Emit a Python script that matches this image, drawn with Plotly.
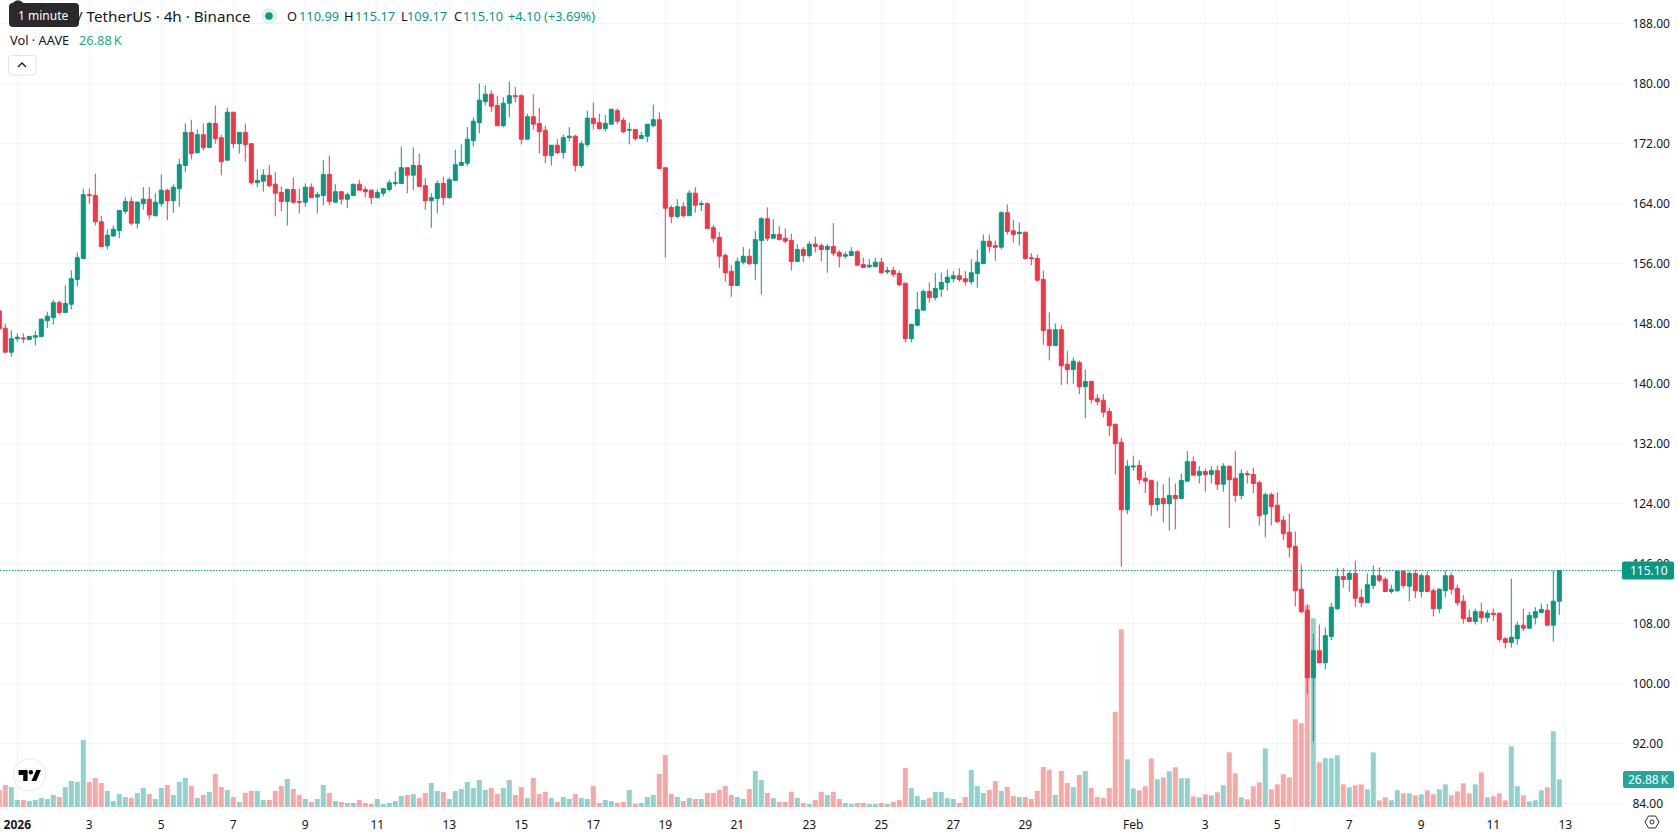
import pandas as pd
import plotly.graph_objects as go

FIRST_BAR = "2025-12-31 12:00"

opens = [
    149.7, 147.4, 144.2, 146.0, 146.1, 145.9, 146.2, 146.3, 148.4, 148.8, 150.8, 149.5,
    150.6, 153.9, 156.7, 165.2, 165.1, 161.6, 158.4, 159.7, 160.4, 163.0, 164.3, 161.4,
    164.0, 164.6, 162.4, 164.0, 165.8, 164.4, 166.0, 169.1, 173.5, 170.8, 173.2, 171.5,
    174.7, 172.8, 169.8, 176.2, 172.0, 173.5, 172.0, 166.8, 167.0, 167.8, 166.6, 165.5,
    164.3, 165.9, 164.3, 164.2, 166.2, 164.9, 165.1, 167.9, 164.2,
    165.6, 164.6, 165.1, 166.6, 165.9, 165.8, 164.8, 165.4, 165.9, 166.7, 166.7, 168.8,
    167.8, 169.1, 166.4, 164.4, 164.7, 166.7, 164.8, 167.1, 169.1, 169.4, 172.4, 174.8,
    177.6, 178.6, 177.1, 174.4, 177.4, 178.4, 178.4, 172.6, 175.6, 174.7, 173.8, 170.4,
    171.8, 170.8, 172.8, 173.0, 169.1, 171.9, 175.4, 174.8, 174.0, 174.6, 176.4, 175.1,
    173.8, 173.9, 172.7, 173.0, 174.4, 175.2, 168.8, 163.5, 162.3,
    163.6, 162.4, 165.4, 163.9, 164.0, 160.8, 159.5, 157.1, 155.0, 153.1, 156.2, 157.0,
    156.0, 159.1, 162.0, 159.4, 159.9, 159.4, 159.1, 156.3, 157.9, 157.1, 158.6, 158.4,
    157.9, 158.3, 157.5, 157.0, 157.1, 157.6, 155.9, 155.6, 155.6, 156.2, 154.9, 155.1,
    154.7, 153.4, 146.0, 147.8, 149.8, 152.3, 151.5, 152.6, 153.5, 154.0, 154.4, 154.0,
    153.6, 154.7, 156.0, 159.0, 158.4, 158.2, 162.8, 160.4, 160.0,
    160.2, 156.8, 156.7, 153.9, 147.2, 145.1, 147.2, 142.6, 141.9, 142.8, 139.6, 140.3,
    138.0, 137.8, 136.3, 134.6, 132.2, 123.2, 128.9, 129.1, 127.4, 127.1, 123.9, 124.7,
    124.0, 125.1, 124.7, 127.0, 129.6, 127.8, 128.3, 127.9, 128.4, 126.6, 129.0, 127.4,
    125.1, 128.0, 127.9, 126.8, 122.6, 125.2, 123.8, 121.8, 120.2, 118.3, 112.6, 109.8,
    100.8, 104.4, 102.8, 106.3, 110.0, 114.3, 113.9, 114.7, 111.5, 110.8, 113.1, 114.4,
    113.9, 112.3, 112.4, 115.0, 113.0, 114.7, 112.3, 114.4, 112.4, 110.0, 112.4, 114.4,
    112.7, 111.0, 108.8, 108.3, 109.6, 108.8, 109.4, 109.4, 106.0, 105.5, 106.0, 107.8,
    107.4, 108.8, 109.5, 109.8, 107.8, 110.99,
]

closes = [
    147.3, 144.2, 146.0, 146.2, 146.0, 146.3, 146.4, 148.6, 149.0, 150.8, 149.5, 150.7,
    154.0, 156.8, 165.2, 165.1, 161.6, 158.3, 159.8, 160.6, 163.1, 164.3, 161.4, 164.2,
    164.6, 162.5, 164.2, 165.8, 164.4, 166.2, 169.2, 173.5, 170.7, 173.2, 171.5, 174.7,
    172.7, 169.6, 176.2, 172.0, 173.5, 171.9, 166.8, 167.1, 167.8, 166.4, 165.4, 164.3,
    165.9, 164.2, 164.2, 166.2, 164.8, 165.2, 167.9, 164.3, 165.6,
    164.6, 165.2, 166.6, 165.8, 165.6, 164.8, 165.5, 166.0, 166.8, 166.8, 168.8, 167.8,
    169.1, 166.3, 164.4, 164.8, 166.7, 164.8, 167.2, 169.2, 169.5, 172.6, 175.0, 177.8,
    178.6, 177.0, 174.4, 177.4, 178.4, 178.3, 172.6, 175.6, 174.6, 173.6, 170.4, 171.8,
    170.8, 172.8, 173.0, 169.1, 172.0, 175.4, 174.7, 174.0, 174.7, 176.6, 175.0, 173.6,
    173.9, 172.7, 173.1, 174.6, 175.2, 168.7, 163.4, 162.3, 163.6,
    162.4, 165.4, 163.8, 164.0, 160.7, 159.4, 157.0, 154.8, 153.1, 156.3, 157.0, 156.0,
    159.2, 162.0, 159.4, 159.9, 159.2, 159.0, 156.3, 157.9, 157.1, 158.6, 158.3, 157.9,
    158.3, 157.4, 157.0, 157.2, 157.6, 155.8, 155.5, 155.8, 156.2, 154.8, 155.1, 154.6,
    153.2, 146.0, 147.9, 149.9, 152.3, 151.5, 152.7, 153.5, 154.2, 154.4, 153.9, 153.6,
    154.8, 156.2, 159.0, 158.3, 158.2, 162.8, 160.3, 159.9, 160.2,
    156.7, 156.7, 153.8, 147.1, 145.1, 147.2, 142.4, 141.9, 143.0, 139.6, 140.3, 137.9,
    137.6, 136.2, 134.4, 132.0, 123.2, 129.0, 129.0, 127.2, 127.0, 123.9, 124.7, 124.0,
    125.1, 124.7, 127.1, 129.6, 127.8, 128.3, 127.9, 128.4, 126.6, 129.0, 127.2, 125.1,
    128.0, 127.9, 126.7, 122.4, 125.2, 123.6, 121.6, 120.0, 118.2, 112.4, 109.6, 100.8,
    104.4, 102.8, 106.4, 110.2, 114.3, 113.9, 114.7, 111.4, 110.8, 113.2, 114.4, 113.8,
    112.3, 112.6, 115.0, 113.1, 114.7, 112.4, 114.4, 112.3, 110.0, 112.6, 114.4, 112.6,
    110.8, 108.7, 108.3, 109.6, 108.8, 109.4, 109.2, 105.9, 105.5, 106.2, 107.8, 107.4,
    109.1, 109.6, 109.9, 107.8, 111.0, 115.10,
]

highs = [
    150.2, 148.0, 147.1, 146.7, 146.7, 146.4, 147.0, 148.7, 149.6, 151.2, 151.1, 153.1,
    155.1, 157.5, 166.0, 166.0, 168.0, 162.4, 160.6, 161.1, 163.1, 164.9, 164.9, 164.3,
    166.2, 166.2, 165.4, 167.9, 166.0, 166.6, 170.0, 174.7, 175.2, 173.9, 174.7, 174.9,
    177.1, 173.2, 176.8, 176.2, 173.5, 174.7, 172.0, 168.6, 168.6, 169.2, 168.2, 166.3,
    166.0, 167.5, 166.0, 166.7, 166.7, 165.6, 169.8, 170.4, 166.6,
    165.6, 165.5, 166.6, 167.2, 166.3, 165.9, 165.9, 166.0, 167.2, 168.3, 171.6, 168.8,
    171.5, 170.7, 167.4, 165.4, 167.1, 167.6, 167.5, 171.2, 171.9, 174.2, 175.5, 180.0,
    179.8, 179.1, 178.4, 178.2, 180.3, 179.6, 178.6, 176.0, 178.6, 176.8, 174.4, 171.8,
    172.6, 173.2, 174.2, 173.2, 172.4, 176.4, 177.5, 176.0, 175.8, 176.6, 176.7, 175.5,
    174.8, 173.9, 173.6, 174.6, 177.2, 176.2, 168.8, 163.8, 164.6,
    164.2, 165.8, 166.2, 164.4, 164.2, 161.2, 160.2, 157.4, 155.8, 156.8, 158.2, 158.0,
    160.4, 162.2, 163.5, 161.9, 161.0, 160.7, 160.0, 158.6, 158.2, 159.0, 159.6, 158.7,
    158.6, 161.4, 157.8, 157.6, 158.2, 157.8, 156.8, 156.6, 156.8, 156.8, 155.6, 155.6,
    155.1, 153.4, 148.0, 152.2, 152.6, 153.5, 154.8, 154.8, 155.2, 155.0, 155.4, 155.0,
    156.6, 157.9, 159.9, 159.9, 159.1, 163.0, 163.9, 161.8, 161.5,
    160.2, 157.4, 157.2, 155.1, 149.5, 148.0, 147.8, 144.4, 143.5, 143.1, 141.9, 140.3,
    138.6, 138.6, 136.8, 134.6, 132.8, 129.8, 130.4, 129.8, 128.3, 127.2, 127.0, 126.6,
    127.5, 126.7, 128.0, 131.0, 130.3, 129.0, 128.7, 129.0, 129.1, 129.4, 129.1, 131.0,
    128.6, 128.4, 128.8, 127.1, 125.5, 125.5, 125.5, 122.4, 122.7, 120.3, 115.9, 110.6,
    106.7, 107.9, 107.5, 110.8, 115.4, 115.4, 115.0, 116.4, 112.6, 114.7, 115.8, 115.5,
    114.2, 113.2, 115.1, 115.1, 115.0, 115.2, 114.7, 115.0, 112.7, 112.7, 115.1, 114.8,
    113.2, 111.8, 109.9, 110.0, 110.8, 109.8, 110.0, 109.5, 106.2, 114.0, 108.3, 110.0,
    109.6, 110.2, 110.7, 110.6, 115.1, 115.17,
]

lows = [
    147.3, 144.2, 143.6, 145.6, 145.4, 145.8, 145.1, 146.2, 147.4, 147.9, 149.2, 149.5,
    149.9, 153.0, 156.7, 164.0, 161.1, 158.2, 157.9, 159.6, 159.4, 162.6, 161.1, 160.7,
    163.2, 161.9, 162.3, 163.6, 161.8, 162.8, 163.6, 168.2, 169.9, 170.7, 171.1, 171.5,
    172.0, 167.8, 169.8, 171.4, 170.7, 169.6, 166.6, 166.2, 165.6, 166.2, 162.3, 163.0,
    161.1, 164.0, 162.7, 163.6, 164.8, 162.7, 163.8, 163.8, 164.2,
    163.9, 163.4, 165.0, 165.8, 164.8, 163.9, 164.7, 165.0, 165.6, 166.3, 166.7, 165.4,
    165.8, 166.3, 163.2, 160.8, 162.7, 163.8, 164.7, 167.0, 169.0, 169.0, 171.6, 173.4,
    177.1, 176.2, 174.4, 174.2, 175.5, 177.5, 171.9, 172.6, 173.9, 170.7, 169.4, 169.1,
    170.6, 170.0, 172.3, 168.3, 168.8, 171.5, 173.9, 174.0, 173.6, 174.6, 174.6, 173.4,
    171.9, 172.4, 172.6, 172.2, 174.2, 168.6, 156.8, 161.4, 162.0,
    162.2, 162.4, 162.8, 163.0, 160.7, 158.8, 155.4, 153.6, 151.6, 153.1, 155.9, 155.8,
    153.8, 151.9, 159.0, 159.4, 159.2, 158.7, 155.1, 156.2, 156.2, 156.8, 157.5, 156.3,
    154.8, 157.0, 155.5, 156.7, 157.0, 155.8, 155.5, 155.4, 155.6, 154.7, 154.6, 154.2,
    153.0, 145.5, 145.5, 147.6, 149.8, 150.8, 151.1, 151.6, 152.4, 153.5, 153.6, 153.1,
    153.2, 152.8, 156.0, 157.5, 156.4, 157.9, 159.9, 158.8, 158.4,
    156.6, 155.8, 153.6, 145.2, 143.1, 145.0, 139.8, 139.9, 140.0, 138.6, 135.4, 137.4,
    137.1, 135.5, 133.0, 127.9, 115.6, 122.6, 128.4, 126.6, 125.4, 122.4, 123.0, 121.5,
    120.4, 120.6, 124.7, 127.0, 127.8, 126.7, 125.6, 126.7, 125.8, 125.6, 120.8, 124.2,
    124.6, 126.7, 125.4, 121.1, 119.5, 121.1, 121.4, 119.1, 116.8, 110.3, 109.4, 98.6,
    92.3, 102.7, 101.9, 105.8, 109.8, 112.8, 112.3, 110.2, 110.2, 110.8, 112.6, 113.5,
    112.3, 112.0, 112.2, 112.7, 111.0, 111.4, 111.5, 112.2, 109.0, 109.4, 111.5, 111.9,
    110.4, 108.0, 108.3, 107.9, 108.0, 108.2, 108.4, 105.5, 104.7, 104.8, 105.2, 107.0,
    107.4, 107.9, 109.4, 107.8, 105.6, 109.17,
]

# Volume per bar, in thousands of AAVE
volumes = [
    16.5, 21.4, 19.4, 6.8, 6.8, 5.8, 6.8, 8.7, 7.8, 11.7, 9.7, 19.4, 25.3, 24.3, 65.1,
    24.3, 28.2, 23.3, 15.6, 5.8, 12.6, 9.7, 8.7, 13.6, 18.5, 12.6, 7.8, 18.5, 21.4, 11.7,
    24.3, 28.2, 20.4, 8.7, 11.7, 14.6, 32.1, 19.4, 16.5, 9.7, 4.9, 13.6, 15.6, 15.6, 6.8,
    6.8, 15.6, 20.4, 27.2, 17.5, 11.7, 7.8, 4.9, 7.8, 21.4, 13.6, 5.8, 4.9, 3.9, 3.9, 6.8,
    3.9, 2.9, 7.8, 2.9, 3.9, 5.8, 10.7, 11.7, 12.6, 8.7, 13.6, 23.3, 15.6, 14.6, 7.8, 15.6,
    17.5, 24.3, 18.5, 26.2, 16.5, 18.5, 12.6, 18.5, 26.2, 11.7, 19.4, 8.7, 28.2, 12.6,
    14.6, 8.7, 4.9, 9.7, 7.8, 12.6, 8.7, 7.8, 20.4, 3.9, 6.8, 5.8, 3.9, 4.9, 16.5, 2.9,
    3.9, 9.7, 11.7, 32.1, 50.5, 12.6, 9.7, 5.8, 8.7, 7.8, 7.8, 13.6, 13.6, 16.5, 20.4,
    11.7, 9.7, 7.8, 17.5, 35.0, 26.2, 13.6, 8.7, 4.9, 4.9, 14.6, 8.7, 3.9, 2.9, 6.8, 14.6,
    11.7, 14.6, 7.8, 3.9, 2.9, 3.9, 3.9, 2.9, 2.9, 3.9, 2.9, 4.9, 6.8, 37.9, 18.5, 10.7,
    6.8, 8.7, 14.6, 14.6, 8.7, 7.8, 3.9, 9.7, 36.0, 20.4, 13.6, 16.5, 25.3, 15.6, 19.4,
    10.7, 9.7, 9.7, 7.8, 15.6, 38.9, 36.0, 11.7, 35.0, 23.3, 19.4, 31.1, 35.0, 18.5, 9.7,
    8.7, 18.5, 92.3, 172.7, 46.3, 18.1, 16.2, 20.1, 47.3, 26.9, 28.8, 34.7, 38.6, 27.9,
    27.9, 10.4, 9.4, 12.3, 11.3, 14.3, 21.1, 53.1, 32.7, 9.4, 7.5, 20.1, 24.0, 57.0, 17.2,
    22.0, 31.8, 28.8, 85.2, 81.3, 196.0, 183.4, 43.4, 47.3, 47.3, 50.2, 22.0, 19.1, 21.1,
    22.0, 17.2, 53.1, 6.5, 9.4, 6.5, 16.2, 13.3, 13.3, 11.3, 12.3, 16.2, 12.3, 17.2, 22.0,
    11.3, 15.2, 23.0, 13.3, 22.0, 33.7, 9.4, 10.4, 13.3, 6.5, 59.0, 20.1, 11.3, 5.5, 6.5,
    16.2, 19.1, 73.5, 26.88,
]

price_ticks = [84, 92, 100, 108, 116, 124, 132, 140, 148, 156, 164, 172, 180, 188]
date_ticks = ["2026-01-01", "2026-01-03", "2026-01-05", "2026-01-07", "2026-01-09",
              "2026-01-11", "2026-01-13", "2026-01-15", "2026-01-17", "2026-01-19",
              "2026-01-21", "2026-01-23", "2026-01-25", "2026-01-27", "2026-01-29",
              "2026-02-01", "2026-02-03", "2026-02-05", "2026-02-07", "2026-02-09",
              "2026-02-11", "2026-02-13"]
date_labels = ["<b>2026</b>", "3", "5", "7", "9", "11", "13", "15", "17", "19", "21", "23",
               "25", "27", "29", "Feb", "3", "5", "7", "9", "11", "13"]

n = min(len(opens), len(highs), len(lows), len(closes), len(volumes))
times = pd.date_range(FIRST_BAR, periods=n, freq="4h")

UP = "#089981"
DOWN = "#F23645"
UP_VOL = "rgba(38,166,154,0.5)"
DOWN_VOL = "rgba(239,83,80,0.5)"
GRID = "#f2f3f4"
TEXT = "#131722"
FONT = "Noto Sans"

# Pane size in screen pixels, and its price and time extents
PANE_W, PANE_H = 1622, 807
CANVAS_W, CANVAS_H = 1678, 835


def xp(px):
    return px / PANE_W


def yp(px):
    return 1 - px / PANE_H


def rounded(x0, y0, x1, y1, r):
    a, b, c, d = xp(x0), yp(y0), xp(x1), yp(y1)
    rx, ry = r / PANE_W, r / PANE_H
    return (f"M{a + rx},{b} L{c - rx},{b} Q{c},{b} {c},{b - ry} L{c},{d + ry} Q{c},{d} {c - rx},{d} "
            f"L{a + rx},{d} Q{a},{d} {a},{d + ry} L{a},{b - ry} Q{a},{b} {a + rx},{b} Z")


def poly(points):
    return "M" + " L".join(f"{xp(x)},{yp(y)}" for x, y in points)


def paper_shape(path, fill="rgba(0,0,0,0)", line=None, width=1):
    return dict(type="path", path=path, xref="paper", yref="paper", layer="above",
                fillcolor=fill, line=dict(color=line or "rgba(0,0,0,0)", width=width))


def circle(cx, cy, r, fill="rgba(0,0,0,0)", line=None, width=1):
    return dict(type="circle", xref="paper", yref="paper", layer="above",
                x0=xp(cx - r), x1=xp(cx + r), y0=yp(cy + r), y1=yp(cy - r),
                fillcolor=fill, line=dict(color=line or "rgba(0,0,0,0)", width=width))


def label(px, py, text, color=TEXT, size=13, anchor="left"):
    return dict(xref="paper", yref="paper", x=xp(px), y=yp(py), text=text, showarrow=False,
                xanchor=anchor, yanchor="middle", font=dict(family=FONT, size=size, color=color),
                borderpad=0)


fig = go.Figure()

fig.add_trace(go.Bar(
    x=times[:n], y=volumes[:n], yaxis="y", width=4 * 3600 * 1000 * 5 / 6,
    marker=dict(color=[UP_VOL if closes[k] >= opens[k] else DOWN_VOL for k in range(n)], line_width=0),
    hoverinfo="skip", showlegend=False,
))

fig.add_trace(go.Candlestick(
    x=times[:n], open=opens[:n], high=highs[:n], low=lows[:n], close=closes[:n], yaxis="y2",
    increasing=dict(line=dict(color=UP, width=1), fillcolor=UP),
    decreasing=dict(line=dict(color=DOWN, width=1), fillcolor=DOWN),
    showlegend=False,
))

bar_ms = pd.Timedelta(hours=4)
jan1 = pd.Timestamp("2026-01-01")
x_start = jan1 + bar_ms * ((0 - 17.3) / 6)
x_end = jan1 + bar_ms * ((PANE_W - 17.3) / 6)

# Screen y = 23.7 + (188 - price) * 7.5
price_top = 188 + 23.7 / 7.5
price_bottom = 188 - (PANE_H - 23.7) / 7.5

last_close = closes[n - 1]
last_volume = volumes[n - 1]
price_y = 23.7 + (188 - last_close) * 7.5

shapes = [
    dict(type="line", xref="paper", yref="y2", x0=0, x1=1, y0=last_close, y1=last_close,
         line=dict(color=UP, width=1, dash="1.5px,1.5px"), layer="above"),
    paper_shape(rounded(1622, price_y - 9, 1674, price_y + 9, 2), fill=UP),
    paper_shape(rounded(1623, 771, 1674, 788, 2), fill="#26A69A"),
    # tooltip over the symbol name
    paper_shape(poly([(11, 4), (16, 0.5), (20, 0.5), (25, 4)]) + " Z", fill="#2A2A2A"),
    paper_shape(rounded(9, 3, 79, 27, 4), fill="#2A2A2A"),
    # status dot
    circle(269, 16, 8, fill="#DFF2EF"),
    circle(269, 16, 3.8, fill=UP),
    # collapse button
    paper_shape(rounded(8.5, 55.5, 36, 75, 3), fill="#ffffff", line="#E0E3EB"),
    paper_shape(poly([(18, 67), (22, 63), (26, 67)]), line=TEXT, width=1.3),
    # watermark logo
    circle(29.5, 775, 16, fill="rgba(255,255,255,0.9)", line="#EDEDED", width=1.2),
    paper_shape(poly([(18.6, 770), (27.6, 770), (27.6, 781), (23.2, 781), (23.2, 775), (18.6, 775)]) + " Z",
                fill="#000000"),
    circle(30.9, 772.2, 2.2, fill="#000000"),
    paper_shape(poly([(36.4, 770), (41, 770), (36.2, 781), (31.4, 781)]) + " Z", fill="#000000"),
    # settings icon on the time scale
    paper_shape(poly([(1645, 822), (1648.5, 816), (1655.5, 816), (1659, 822), (1655.5, 828), (1648.5, 828)]) + " Z",
                line="#2A2E39", width=1),
    circle(1652, 822, 2, line="#2A2E39", width=1),
]

annotations = [
    label(251.5, 16, "/ TetherUS · 4h · Binance", size=15.2, anchor="right"),
    label(43, 15.5, "1 minute", color="#ffffff", size=12, anchor="center"),
    label(285.5, 16, "O", size=12.8),
    label(297.5, 16, "110.99", color=UP, size=12.8),
    label(343, 16, "H", size=12.8),
    label(353.5, 16, "115.17", color=UP, size=12.8),
    label(400, 16, "L", size=12.8),
    label(406.5, 16, "109.17", color=UP, size=12.8),
    label(452.5, 16, "C", size=12.8),
    label(461.5, 16, "115.10", color=UP, size=12.8),
    label(507, 16, "+4.10 (+3.69%)", color=UP, size=12.8),
    label(8.5, 40.5, "Vol · AAVE", size=12.8),
    label(78, 40.5, f"{last_volume:.2f}\u2009K", color="#26A69A", size=12.8),
    label(1648.5, price_y, f"{last_close:.2f}", color="#ffffff", size=12, anchor="center"),
    label(1648.5, 779.5, f"{last_volume:.2f}\u2009K", color="#ffffff", size=12, anchor="center"),
]

fig.update_layout(
    width=CANVAS_W, height=CANVAS_H,
    margin=dict(l=0, r=CANVAS_W - PANE_W, t=0, b=CANVAS_H - PANE_H, pad=0),
    paper_bgcolor="#ffffff", plot_bgcolor="#ffffff",
    bargap=1 / 6, boxgap=1 / 3, boxgroupgap=0, dragmode=False, showlegend=False,
    font=dict(family=FONT, size=12, color=TEXT),
    xaxis=dict(type="date", range=[x_start, x_end], rangeslider=dict(visible=False),
               tickmode="array", tickvals=date_ticks, ticktext=date_labels,
               showgrid=True, gridcolor=GRID, gridwidth=1, zeroline=False, showline=False,
               ticks="outside", ticklen=7, tickcolor="rgba(0,0,0,0)",
               tickfont=dict(family=FONT, size=12, color=TEXT)),
    yaxis=dict(range=[0, PANE_H * 26.88 / 27.67], visible=False, showgrid=False, fixedrange=True),
    yaxis2=dict(overlaying="y", side="right", range=[price_bottom, price_top],
                tickmode="array", tickvals=price_ticks, ticktext=[f"{v:.2f}" for v in price_ticks],
                showgrid=True, gridcolor=GRID, gridwidth=1, zeroline=False, showline=False,
                ticks="outside", ticklen=7, tickcolor="rgba(0,0,0,0)",
                tickfont=dict(family=FONT, size=12, color=TEXT)),
    shapes=shapes, annotations=annotations,
)

fig.write_html("out.html")
